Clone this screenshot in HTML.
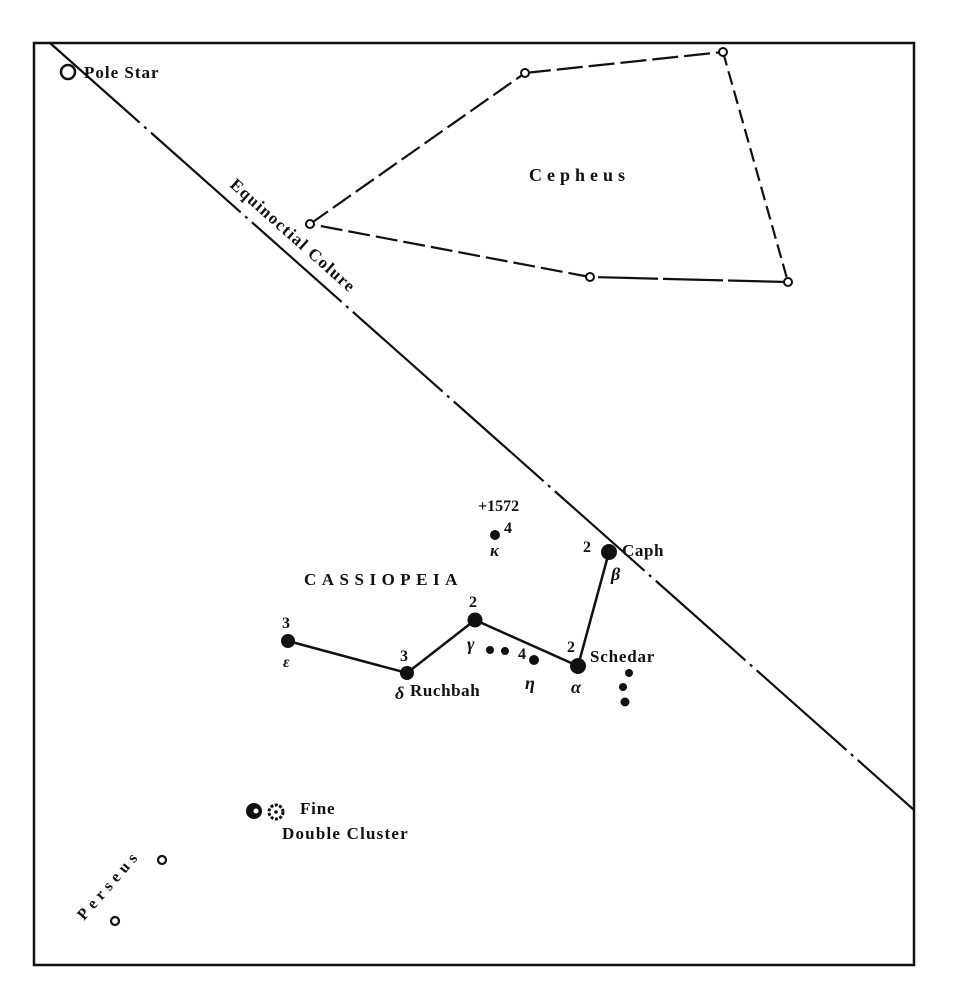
<!DOCTYPE html>
<html><head><style>body{margin:0;background:#fff}svg{display:block}text{font-family:"Liberation Serif",serif;font-weight:bold;fill:#111}</style></head><body>
<svg width="961" height="1000" viewBox="0 0 961 1000" xmlns="http://www.w3.org/2000/svg">
<rect x="34" y="43" width="880" height="922" fill="none" stroke="#111" stroke-width="2.5"/>
<line x1="50" y1="43" x2="914" y2="810" stroke="#111" stroke-width="2.2" stroke-dasharray="120,6,3,6"/>
<text transform="translate(229,186) rotate(41.6)" font-size="17" letter-spacing="1.3">Equinoctial Colure</text>
<circle cx="68" cy="72" r="7" fill="#fff" stroke="#111" stroke-width="2.5"/>
<text x="84" y="78" font-size="17" letter-spacing="1">Pole Star</text>
<g stroke="#111" stroke-width="2.2" fill="none">
<line x1="310" y1="224" x2="525" y2="73" stroke-dasharray="22,6"/>
<line x1="525" y1="73" x2="723" y2="52" stroke-dasharray="26,6"/>
<line x1="723" y1="52" x2="788" y2="282" stroke-dasharray="14,6"/>
<line x1="788" y1="282" x2="590" y2="277" stroke-dasharray="60,5"/>
<line x1="590" y1="277" x2="310" y2="224" stroke-dasharray="22,6"/>
</g>
<g fill="#fff" stroke="#111" stroke-width="2">
<circle cx="310" cy="224" r="4"/><circle cx="525" cy="73" r="4"/><circle cx="723" cy="52" r="4"/><circle cx="788" cy="282" r="4"/><circle cx="590" cy="277" r="4"/>
</g>
<text x="529" y="181" font-size="18" letter-spacing="5" font-family="Liberation Sans">Cepheus</text>
<polyline points="288,641 407,673 475,620 578,666 609,552" fill="none" stroke="#111" stroke-width="2.5"/>
<g fill="#111">
<circle cx="288" cy="641" r="7"/><circle cx="407" cy="673" r="7"/><circle cx="475" cy="620" r="7.5"/><circle cx="578" cy="666" r="8"/><circle cx="609" cy="552" r="8"/>
<circle cx="495" cy="535" r="5"/><circle cx="490" cy="650" r="4"/><circle cx="505" cy="651" r="4"/><circle cx="534" cy="660" r="5"/>
<circle cx="629" cy="673" r="4"/><circle cx="623" cy="687" r="4"/><circle cx="625" cy="702" r="4.5"/>
</g>
<text x="478" y="511" font-size="16">+1572</text>
<text x="504" y="533" font-size="16">4</text>
<text x="490" y="556" font-size="17" font-style="italic">κ</text>
<text x="304" y="585" font-size="17" letter-spacing="5.5" font-family="Liberation Sans">CASSIOPEIA</text>
<text x="282" y="628" font-size="16">3</text>
<text x="283" y="667" font-size="16" font-style="italic">ε</text>
<text x="400" y="661" font-size="16">3</text>
<text x="395" y="699" font-size="18" font-style="italic">δ</text>
<text x="410" y="696" font-size="17" letter-spacing="0.6">Ruchbah</text>
<text x="469" y="607" font-size="16">2</text>
<text x="467" y="650" font-size="18" font-style="italic">γ</text>
<text x="518" y="659" font-size="16">4</text>
<text x="525" y="689" font-size="18" font-style="italic">η</text>
<text x="567" y="652" font-size="16">2</text>
<text x="571" y="693" font-size="18" font-style="italic">α</text>
<text x="590" y="662" font-size="17" letter-spacing="0.8">Schedar</text>
<text x="583" y="552" font-size="16">2</text>
<text x="622" y="556" font-size="17" letter-spacing="0.6">Caph</text>
<text x="611" y="580" font-size="18" font-style="italic">β</text>
<circle cx="254" cy="811" r="8" fill="#111"/>
<circle cx="256" cy="811" r="2.5" fill="#fff"/>
<circle cx="276" cy="812" r="7" fill="#fff" stroke="#111" stroke-width="3" stroke-dasharray="3,1.5"/>
<circle cx="276" cy="812" r="1.8" fill="#111"/>
<text x="300" y="814" font-size="17" letter-spacing="0.8">Fine</text>
<text x="282" y="839" font-size="17" letter-spacing="1.2">Double Cluster</text>
<text transform="translate(84,921) rotate(-49)" font-size="16" letter-spacing="5">Perseus</text>
<circle cx="162" cy="860" r="4" fill="#fff" stroke="#111" stroke-width="2.2"/>
<circle cx="115" cy="921" r="4" fill="#fff" stroke="#111" stroke-width="2.2"/>
</svg></body></html>
